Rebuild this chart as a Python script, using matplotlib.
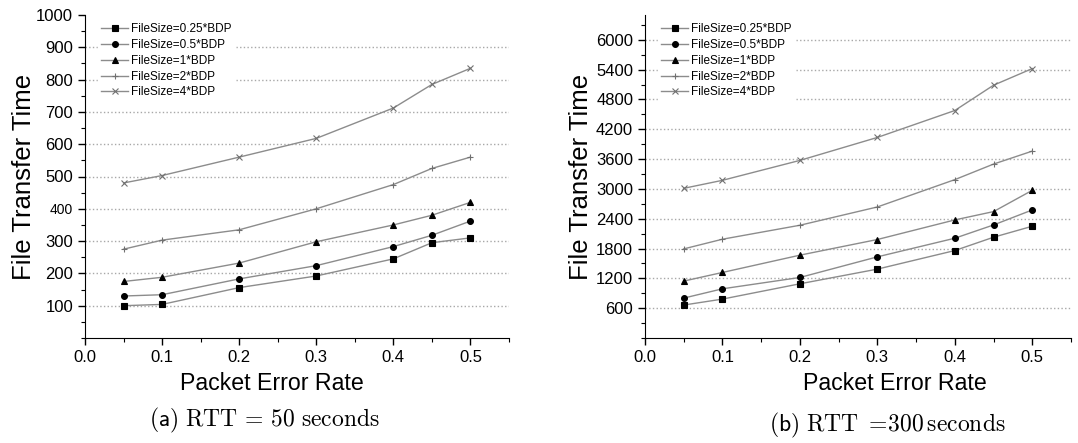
import numpy as np
import matplotlib
matplotlib.use("Agg")
import matplotlib.pyplot as plt
from matplotlib.ticker import MultipleLocator, FixedLocator

plt.rcParams['font.family'] = ['Liberation Sans', 'DejaVu Sans']
plt.rcParams['mathtext.fontset'] = 'cm'

# Data
per = [0.05, 0.1, 0.2, 0.3, 0.4, 0.45, 0.5]
labels = ['FileSize=0.25*BDP', 'FileSize=0.5*BDP', 'FileSize=1*BDP',
          'FileSize=2*BDP', 'FileSize=4*BDP']

# (a) RTT = 50 s
rtt50_025 = [100, 104, 156, 192, 245, 295, 310]
rtt50_05 = [130, 134, 183, 224, 283, 318, 362]
rtt50_1 = [175, 188, 232, 298, 350, 380, 420]
rtt50_2 = [275, 303, 335, 400, 475, 525, 560]
rtt50_4 = [480, 503, 560, 618, 712, 785, 835]

# (b) RTT = 300 s
rtt300_025 = [663, 783, 1091, 1386, 1760, 2028, 2249]
rtt300_05 = [803, 990, 1218, 1633, 2008, 2275, 2577]
rtt300_1 = [1145, 1319, 1667, 1982, 2376, 2544, 2972]
rtt300_2 = [1793, 1988, 2269, 2637, 3187, 3500, 3761]
rtt300_4 = [3012, 3173, 3574, 4036, 4578, 5087, 5422]

markers = ['s', 'o', '^', '+', 'x']
mcolors = ['black', 'black', 'black', '#707070', '#707070']
msizes = [3.8, 4.2, 4.5, 4, 4]
LINE = '#8c8c8c'


def panel(ax, series, ymax, ymajor, yminor, hide_top_grid, ylab_x, xlab_x):
    for ys, lab, m, mc, ms in zip(series, labels, markers, mcolors, msizes):
        ax.plot(per, ys, color=LINE, lw=1.0, marker=m, markersize=ms,
                markerfacecolor=mc, markeredgecolor=mc, markeredgewidth=0.8,
                label=lab, zorder=3)
    ax.set_xlim(0, 0.55)
    ax.set_ylim(0, ymax)
    ax.xaxis.set_major_locator(FixedLocator([0.0, 0.1, 0.2, 0.3, 0.4, 0.5]))
    ax.xaxis.set_minor_locator(MultipleLocator(0.05))
    yt = np.arange(ymajor, (ymax // ymajor) * ymajor + 1, ymajor)
    ax.yaxis.set_major_locator(FixedLocator(yt))
    ax.yaxis.set_minor_locator(MultipleLocator(yminor))
    ax.set_xticklabels(['0.0', '0.1', '0.2', '0.3', '0.4', '0.5'])
    ax.tick_params(axis='both', which='major', direction='out', length=5,
                   width=1, labelsize=12)
    ax.tick_params(axis='both', which='minor', direction='out', length=3,
                   width=0.8)
    ax.spines['top'].set_visible(False)
    ax.spines['right'].set_visible(False)
    ax.yaxis.grid(True, which='major', color='#a8a8a8', linestyle=':',
                  linewidth=1.0, zorder=0)
    if hide_top_grid:
        ax.get_ygridlines()[-1].set_visible(False)
    ax.set_axisbelow(True)
    ax.set_xlabel('Packet Error Rate', fontsize=16.7)
    ax.set_ylabel('File Transfer Time', fontsize=18.5)
    ax.yaxis.set_label_coords(ylab_x, 0.5)
    ax.xaxis.set_label_coords(xlab_x, -0.105)
    leg = ax.legend(loc='upper left', bbox_to_anchor=(0.03, 0.985),
                    frameon=True, fontsize=8.5, handlelength=2.3,
                    handletextpad=0.2, labelspacing=0.32, borderpad=0.3,
                    borderaxespad=0.0)
    leg.get_frame().set_edgecolor('white')
    leg.get_frame().set_facecolor('white')
    leg.get_frame().set_alpha(1.0)
    leg.set_zorder(4)


fig = plt.figure(figsize=(10.78, 4.43), dpi=100)
ax1 = fig.add_axes([85 / 1078, 105 / 443, 424 / 1078, 323 / 443])
ax2 = fig.add_axes([645 / 1078, 105 / 443, 426 / 1078, 323 / 443])

panel(ax1, [rtt50_025, rtt50_05, rtt50_1, rtt50_2, rtt50_4],
      1000, 100, 50, True, -0.116, 0.441)
panel(ax2, [rtt300_025, rtt300_05, rtt300_1, rtt300_2, rtt300_4],
      6500, 600, 300, False, -0.122, 0.587)

# the scanned original prints the 400 label smaller
for t in ax1.get_yticklabels():
    if t.get_text() == '400':
        t.set_fontsize(10)

fig.text(264 / 1078, 1 - 420 / 443, r'$\mathsf{(a)}\ \mathrm{RTT}\,=\,50\ \mathrm{seconds}$',
         ha='center', va='center', fontsize=17)
fig.text(887 / 1078, 1 - 425 / 443, r'$\mathsf{(b)}\ \mathrm{RTT}\ =\!300\,\mathrm{seconds}$',
         ha='center', va='center', fontsize=17)

fig.savefig('out.png', dpi=100)
